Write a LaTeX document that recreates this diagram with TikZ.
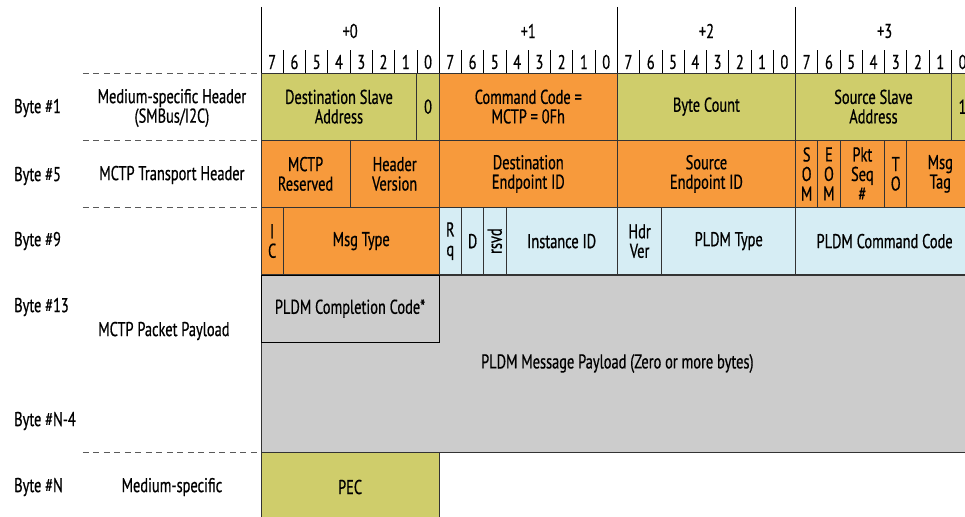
\documentclass[tikz,border=0pt]{standalone}
\usepackage{fontspec}
\setmainfont{PT Sans}[FakeStretch=0.72,FakeBold=0.6]
\usepackage{xcolor}
\usetikzlibrary{positioning}
\definecolor{smbgreen}{HTML}{CFCD6B}
\definecolor{mctporange}{HTML}{F79A3C}
\definecolor{pldmblue}{HTML}{D6EDF4}
\definecolor{payloadgray}{HTML}{CCCCCC}

\begin{document}
\begin{tikzpicture}[x=22.27pt, y=-1pt, font=\fontsize{20}{19.5}\selectfont,
        bits/.style={minimum width=#1*22.27pt}]
    \tikzstyle{field} = [draw=black!80, line width=1pt, inner sep=0pt, outer sep=0pt, align=center, minimum height=67.25pt]
    \tikzstyle{rowsep} = [draw=black!65, line width=1pt, dash pattern=on 6pt off 4.5pt]
    \tikzstyle{rowlabel} = [anchor=west, inner sep=0pt]
    \tikzstyle{partlabel} = [align=center, inner sep=0pt]

    \clip (-11.72,0) rectangle (31.61,516);

    % byte and bit ruler
    \foreach \i in {0,...,3}
        \node (byte\i) at (4+8*\i, 31) {+\i};
    \foreach \k [evaluate=\k as \n using {int(7-mod(\k,8))}] in {0,...,31}
        \node (bit\k) at (\k+0.5, 62) {\n};
    \foreach \k in {1,...,31}
        \draw [line width=0.8pt] (\k,50) -- (\k,73);
    \foreach \k in {0,8,...,32}
        \draw [line width=0.8pt] (\k,7) -- (\k,73);

    % payload
    \node [field, fill=payloadgray, bits=32, minimum height=177pt, anchor=north west] (msgpay) at (0,275) {PLDM Message Payload (Zero or more bytes)};
    \node [field, draw=black, fill=payloadgray, bits=8, anchor=north west] (ccode) at (0,275) {PLDM Completion Code*};
    \node [field, fill=smbgreen, bits=8, minimum height=70pt, anchor=north west] (pec) at (0,452) {PEC};

    % byte 1
    \node [field, fill=smbgreen, bits=7, anchor=north west] (dsa) at (0,73) {Destination Slave\\Address};
    \node [field, fill=smbgreen, bits=1, right=0pt of dsa] (rw0) {0};
    \node [field, fill=mctporange, bits=8, right=0pt of rw0] (cmd) {Command Code =\\MCTP = 0Fh};
    \node [field, fill=smbgreen, bits=8, right=0pt of cmd] (cnt) {Byte Count};
    \node [field, fill=smbgreen, bits=7, right=0pt of cnt] (ssa) {Source Slave\\Address};
    \node [field, fill=smbgreen, bits=1, right=0pt of ssa] (rw1) {1};

    % byte 5
    \node [field, fill=mctporange, bits=4, below=0pt of dsa.south west, anchor=north west] (rsv) {MCTP\\Reserved};
    \node [field, fill=mctporange, bits=4, right=0pt of rsv] (hver) {Header\\Version};
    \node [field, fill=mctporange, bits=8, right=0pt of hver] (deid) {Destination\\Endpoint ID};
    \node [field, fill=mctporange, bits=8, right=0pt of deid] (seid) {Source\\Endpoint ID};
    \node [field, fill=mctporange, bits=1, right=0pt of seid] (som) {S\\O\\M};
    \node [field, fill=mctporange, bits=1, right=0pt of som] (eom) {E\\O\\M};
    \node [field, fill=mctporange, bits=2, right=0pt of eom] (seq) {Pkt\\Seq\\\#};
    \node [field, fill=mctporange, bits=1, right=0pt of seq] (to) {T\\O};
    \node [field, fill=mctporange, bits=3, right=0pt of to] (tag) {Msg\\Tag};

    % byte 9
    \node [field, fill=mctporange, bits=1, below=0pt of rsv.south west, anchor=north west] (ic) {I\\C};
    \node [field, fill=mctporange, bits=7, right=0pt of ic] (mtype) {Msg Type};
    \node [field, fill=pldmblue, bits=1, right=0pt of mtype] (rq) {R\\q};
    \node [field, fill=pldmblue, bits=1, right=0pt of rq] (dbit) {D};
    \node [field, fill=pldmblue, bits=1, right=0pt of dbit] (rsvd) {\rotatebox{90}{rsvd}};
    \node [field, fill=pldmblue, bits=5, right=0pt of rsvd] (iid) {Instance ID};
    \node [field, fill=pldmblue, bits=2, right=0pt of iid] (hdrver) {Hdr\\Ver};
    \node [field, fill=pldmblue, bits=6, right=0pt of hdrver] (ptype) {PLDM Type};
    \node [field, fill=pldmblue, bits=8, right=0pt of ptype] (pcmd) {PLDM Command Code};

    % left columns
    \node [rowlabel] (b1) at (-11.09,108) {Byte \#1};
    \node [rowlabel] (b5) at (-11.09,176) {Byte \#5};
    \node [rowlabel] (b9) at (-11.09,241) {Byte \#9};
    \node [rowlabel] (b13) at (-11.09,307) {Byte \#13};
    \node [rowlabel] (bn4) at (-11.09,421) {Byte \#N-4};
    \node [rowlabel] (bn) at (-11.09,487) {Byte \#N};

    \node [partlabel] (smbhdr) at (-4,108) {Medium-specific Header\\(SMBus/I2C)};
    \node [partlabel] (trhdr) at (-4,175) {MCTP Transport Header};
    \node [partlabel] (pktpay) at (-4.36,331) {MCTP Packet Payload};
    \node [partlabel] (medsp) at (-4,487) {Medium-specific};

    \foreach \y in {73,140,207.5,452}
        \draw [rowsep] (-8,\y) -- (0,\y);
\end{tikzpicture}
\end{document}
